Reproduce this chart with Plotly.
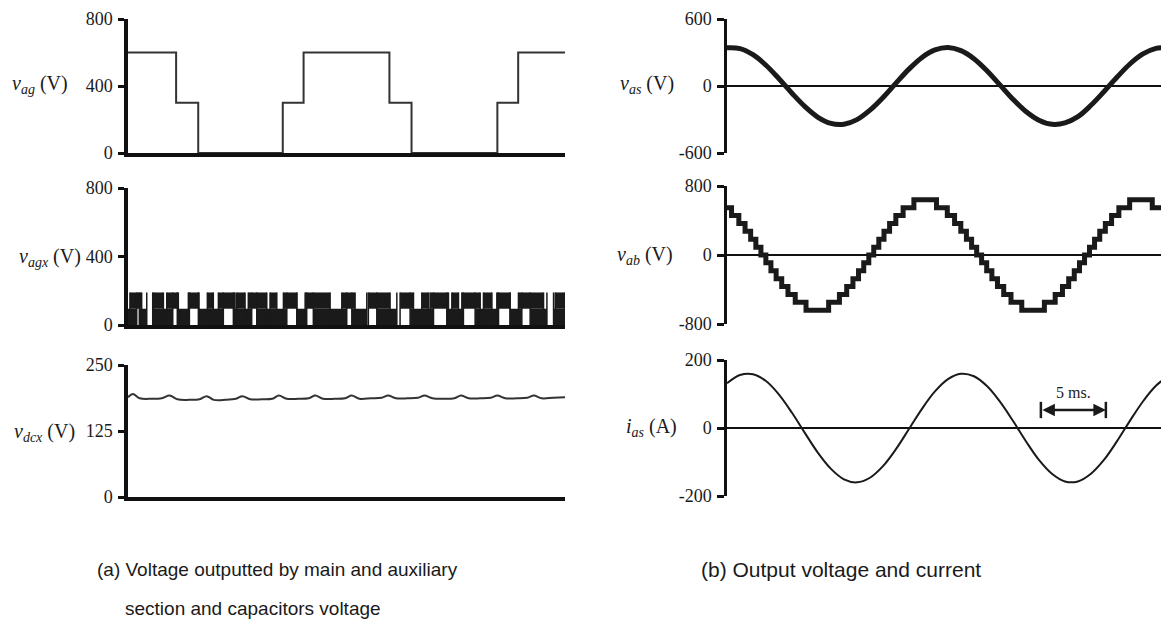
import plotly.graph_objects as go

W, H = 1169, 639

# ---------------- data (time in ms) ----------------
# main section voltage v_ag (step values)
vag_t = [0, 3.7, 5.4, 11.9, 13.5, 20.1, 21.8, 28.4, 30.0, 33.6]
vag_v = [600, 300, 0, 300, 600, 300, 0, 300, 600, 600]

# auxiliary section voltage v_agx: segments where it switches in the upper band
vagx_up_start = [0.15, 1.95, 2.98, 4.64, 6.10, 6.95, 8.36, 9.25, 10.92, 11.95, 13.62,
                 16.44, 18.48, 20.92, 22.59, 23.23, 24.90, 25.67, 27.33, 28.36, 30.02, 32.85]
vagx_up_end = [1.05, 2.72, 3.87, 5.46, 6.56, 8.23, 9.00, 10.67, 11.44, 12.98, 15.54,
               17.46, 20.15, 21.95, 23.10, 24.64, 25.41, 27.08, 27.98, 29.38, 31.95, 33.60]
# gaps where the lower band is left empty
vagx_gap_start = [0.67, 1.44, 3.44, 4.72, 7.33, 9.51, 12.21, 13.74, 16.82, 18.36, 20.67,
                  23.49, 25.79, 28.49, 30.28, 32.21]
vagx_gap_end = [0.87, 1.90, 3.79, 5.41, 8.10, 9.90, 12.98, 14.25, 17.21, 19.13, 21.69,
                24.51, 26.69, 29.38, 30.92, 32.72]
vagx_levels = [0, 95, 190]

# capacitor voltage v_dcx
vdcx_t = [0, 0.38, 0.9, 1.8, 2.6, 3.2, 3.8, 4.7, 5.5, 6.05, 6.6, 7.5, 8.3, 8.8, 9.4, 10.3,
          11.1, 11.6, 12.2, 13.1, 13.9, 14.4, 15.0, 15.9, 16.7, 17.2, 17.8, 18.7, 19.5,
          20.0, 20.6, 21.5, 22.3, 22.8, 23.4, 24.3, 25.1, 25.6, 26.2, 27.1, 27.9, 28.4,
          29.0, 29.9, 30.7, 31.2, 31.8, 32.7, 33.6]
vdcx_v = [189, 195, 187, 186, 187, 192, 185, 184, 185, 191, 184, 184, 186, 191, 185, 185,
          186, 192, 186, 186, 187, 192, 186, 186, 187, 192, 186, 187, 188, 192, 187, 187,
          188, 192, 187, 186, 187, 192, 187, 187, 188, 192, 187, 187, 188, 192, 187, 188, 189]

# output phase voltage v_as
vas_t = [0, 1, 2, 3, 4, 5, 6, 7, 8, 9, 10, 11, 12, 13, 14, 15, 16, 17, 18, 19, 20, 21,
         22, 23, 24, 25, 26, 27, 28, 29, 30, 31, 32, 33, 33.7]
vas_v = [342, 335, 280, 186, 65, -65, -185, -280, -335, -342, -301, -216, -103, 26, 151,
         256, 323, 345, 317, 245, 137, 10, -118, -228, -306, -343, -331, -275, -173, -51,
         78, 197, 287, 337, 345]

# line voltage v_ab (staircase)
vab_t = [0, 0.35, 0.91, 1.39, 1.82, 2.22, 2.61, 2.99, 3.38, 3.78, 4.21, 4.69, 5.25, 6.08,
         7.82, 8.65, 9.21, 9.69, 10.12, 10.52, 10.91, 11.29, 11.68, 12.08, 12.51, 12.99,
         13.55, 14.38, 16.12, 16.95, 17.51, 17.99, 18.42, 18.82, 19.21, 19.59, 19.98,
         20.38, 20.81, 21.29, 21.85, 22.68, 24.42, 25.25, 25.81, 26.29, 26.72, 27.12,
         27.51, 27.89, 28.28, 28.68, 29.11, 29.59, 30.15, 30.98, 32.72, 33.7]
vab_v = [549, 457, 366, 274, 183, 91, 0, -91, -183, -274, -366, -457, -549, -640,
         -549, -457, -366, -274, -183, -91, 0, 91, 183, 274, 366, 457, 549, 640,
         549, 457, 366, 274, 183, 91, 0, -91, -183, -274, -366, -457, -549, -640,
         -549, -457, -366, -274, -183, -91, 0, 91, 183, 274, 366, 457, 549, 640, 549, 549]

# output current i_as
ias_t = vas_t
ias_v = [131.5, 155.9, 158.2, 138.1, 98.4, 44.8, -15.1, -73.1, -120.3, -150.9, -159.9,
         -146.3, -112.3, -62.2, -3.0, 56.4, 107.5, 143.7, 159.5, 152.2, 123.3, 77.5, 21.3,
         -38.9, -93.8, -134.5, -157.2, -157.3, -134.7, -94.1, -39.3, 21.1, 78.0, 124.1, 146.2]

# 5 ms scale marker
scale_t = [24.15, 29.15]
scale_i = 53

left_ticks = [[0, 400, 800], [0, 400, 800], [0, 125, 250]]
right_ticks = [[-600, 0, 600], [-800, 0, 800], [-200, 0, 200]]
right_ticktext = [["-600", "0", "600"], ["-800", "0", "800"], ["-200", "0", "200"]]

# ---------------- figure ----------------
INK = "#1a1a1a"
SERIF = "Liberation Serif"
OFF = 8  # page body offset of the figure, in pixels
FW, FH = W - OFF, H - OFF  # figure size so that it fits the window

fig = go.Figure()

def px_x(x):
    return (x - OFF) / FW

def px_y(y):
    return 1 - (y - OFF) / FH

# v_ag
fig.add_trace(go.Scatter(x=vag_t, y=vag_v, mode="lines", line=dict(color="#333", width=2, shape="hv"),
                         xaxis="x", yaxis="y", showlegend=False))

# v_agx: lower band filled except in gaps, upper band filled in its segments
lo_start, lo_end = [], []
prev = 0.0
for s, e in zip(vagx_gap_start, vagx_gap_end):
    if s > prev:
        lo_start.append(prev)
        lo_end.append(s)
    prev = e
if prev < 33.6:
    lo_start.append(prev)
    lo_end.append(33.6)

fig.add_trace(go.Bar(x=[(s + e) / 2 for s, e in zip(vagx_up_start, vagx_up_end)],
                     width=[e - s for s, e in zip(vagx_up_start, vagx_up_end)],
                     y=[vagx_levels[2] - vagx_levels[1]] * len(vagx_up_start),
                     base=[vagx_levels[1]] * len(vagx_up_start),
                     marker=dict(color=INK, line=dict(width=0)),
                     xaxis="x2", yaxis="y2", showlegend=False))
fig.add_trace(go.Bar(x=[(s + e) / 2 for s, e in zip(lo_start, lo_end)],
                     width=[e - s for s, e in zip(lo_start, lo_end)],
                     y=[vagx_levels[1] - vagx_levels[0]] * len(lo_start),
                     base=[vagx_levels[0]] * len(lo_start),
                     marker=dict(color=INK, line=dict(width=0)),
                     xaxis="x2", yaxis="y2", showlegend=False))
# switching edges (vertical lines at each band change)
edge_x, edge_y = [], []
for s, e in zip(vagx_up_start + vagx_gap_start, vagx_up_end + vagx_gap_end):
    for t in (s, e):
        edge_x += [t, t, None]
        edge_y += [vagx_levels[0], vagx_levels[2], None]
fig.add_trace(go.Scatter(x=edge_x, y=edge_y, mode="lines", line=dict(color=INK, width=1.5),
                         xaxis="x2", yaxis="y2", showlegend=False))

# v_dcx
fig.add_trace(go.Scatter(x=vdcx_t, y=vdcx_v, mode="lines", line=dict(color="#333", width=2, shape="spline"),
                         xaxis="x3", yaxis="y3", showlegend=False))

# v_as
fig.add_trace(go.Scatter(x=vas_t, y=vas_v, mode="lines", line=dict(color=INK, width=5, shape="spline"),
                         xaxis="x4", yaxis="y4", showlegend=False))
# v_ab
fig.add_trace(go.Scatter(x=vab_t, y=vab_v, mode="lines", line=dict(color=INK, width=5, shape="hv"),
                         xaxis="x5", yaxis="y5", showlegend=False))
# i_as
fig.add_trace(go.Scatter(x=ias_t, y=ias_v, mode="lines", line=dict(color=INK, width=2, shape="spline"),
                         xaxis="x6", yaxis="y6", showlegend=False))

# domains (from pixel positions)
left_x = [px_x(128), px_x(565)]
right_x = [px_x(727), px_x(1165)]
left_rows = [(19, 153), (188, 325), (365, 497)]
right_rows = [(19, 153), (186, 324), (360, 496)]
left_ranges = [[0, 800], [0, 800], [0, 250]]
right_ranges = [[-600, 600], [-800, 800], [-200, 200]]

tickfont = dict(family=SERIF, size=18, color=INK)
layout = dict(width=FW, height=FH, margin=dict(l=0, r=0, t=0, b=0, autoexpand=False),
              plot_bgcolor="white", paper_bgcolor="white", barmode="overlay",
              showlegend=False)

for i in range(3):
    n = i + 1
    xa = "xaxis" if n == 1 else f"xaxis{n}"
    ya = "yaxis" if n == 1 else f"yaxis{n}"
    yname = "y" if n == 1 else f"y{n}"
    xname = "x" if n == 1 else f"x{n}"
    top, bot = left_rows[i]
    layout[xa] = dict(domain=left_x, range=[0, 33.6], anchor=yname, showline=True, linewidth=3.5,
                      linecolor="#111", showticklabels=False, ticks="", showgrid=False,
                      zeroline=False, automargin=False)
    layout[ya] = dict(domain=[px_y(bot), px_y(top)], range=left_ranges[i], anchor=xname,
                      showline=True, linewidth=3.5, linecolor="#111", ticks="outside", ticklen=6,
                      tickwidth=2.5, tickcolor="#111", tickvals=left_ticks[i], tickfont=tickfont,
                      ticklabelstandoff=2, ticklabeloverflow="allow", showgrid=False,
                      zeroline=False, automargin=False)

for i in range(3):
    n = i + 4
    top, bot = right_rows[i]
    layout[f"xaxis{n}"] = dict(domain=right_x, range=[0, 33.7], anchor=f"y{n}", showline=False,
                               showticklabels=False, ticks="", showgrid=False, zeroline=False,
                               automargin=False)
    layout[f"yaxis{n}"] = dict(domain=[px_y(bot), px_y(top)], range=right_ranges[i], anchor=f"x{n}",
                               showline=True, linewidth=2.5, linecolor="#111", ticks="outside",
                               ticklen=7, tickwidth=2.5, tickcolor="#111", tickvals=right_ticks[i],
                               ticktext=right_ticktext[i], tickfont=tickfont, ticklabelstandoff=2,
                               ticklabeloverflow="allow", showgrid=False, zeroline=True,
                               zerolinecolor="#111", zerolinewidth=2, automargin=False)

fig.update_layout(**layout)

# axis labels
lab_font = dict(family=SERIF, size=20, color=INK)
labels = [
    ("<i>v<sub>ag</sub></i> (V)", 40, 85),
    ("<i>v<sub>agx</sub></i> (V)", 50, 257),
    ("<i>v<sub>dcx</sub></i> (V)", 44, 432),
    ("<i>v<sub>as</sub></i> (V)", 647, 85),
    ("<i>v<sub>ab</sub></i> (V)", 645, 256),
    ("<i>i<sub>as</sub></i> (A)", 651, 427),
]
for txt, x, y in labels:
    fig.add_annotation(text=txt, x=px_x(x), y=px_y(y), xref="paper", yref="paper",
                       showarrow=False, font=lab_font, xanchor="center", yanchor="middle")

# 5 ms marker
fig.add_annotation(x=scale_t[1], y=scale_i, ax=scale_t[0], ay=scale_i, xref="x6", yref="y6",
                   axref="x6", ayref="y6", text="", showarrow=True, arrowhead=2, arrowsize=1,
                   arrowwidth=2.5, arrowcolor=INK, arrowside="end+start")
for t in scale_t:
    fig.add_shape(type="line", x0=t, x1=t, y0=scale_i - 24, y1=scale_i + 24, xref="x6", yref="y6",
                  line=dict(color=INK, width=2.5))
fig.add_annotation(text="5 ms.", x=sum(scale_t) / 2, y=scale_i + 52, xref="x6", yref="y6",
                   showarrow=False, font=dict(family=SERIF, size=16, color=INK))

# captions
cap_a = dict(family="Liberation Sans", size=19, color=INK)
cap_b = dict(family="Liberation Sans", size=21, color=INK)
fig.add_annotation(text="(a) Voltage outputted by main and auxiliary", x=px_x(95), y=px_y(569),
                   xref="paper", yref="paper", showarrow=False, font=cap_a,
                   xanchor="left", yanchor="middle")
fig.add_annotation(text="section and capacitors voltage", x=px_x(123), y=px_y(608),
                   xref="paper", yref="paper", showarrow=False, font=cap_a,
                   xanchor="left", yanchor="middle")
fig.add_annotation(text="(b) Output voltage and current", x=px_x(699), y=px_y(569),
                   xref="paper", yref="paper", showarrow=False, font=cap_b,
                   xanchor="left", yanchor="middle")

fig.write_html("out.html")
